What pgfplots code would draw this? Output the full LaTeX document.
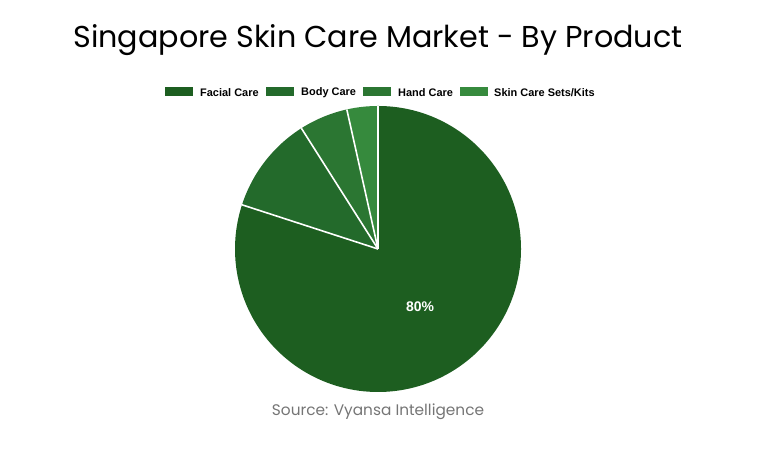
\documentclass[border=0pt]{standalone}
\usepackage{pgfplots}
\pgfplotsset{compat=1.18}
\usepackage{pgfplotstable}
\usepackage{fontspec}
\setmainfont{Liberation Sans}
\newfontfamily\titlefont{Poppins}
\definecolor{c0}{HTML}{1D5E20}
\definecolor{c1}{HTML}{236A2B}
\definecolor{c2}{HTML}{2B7632}
\definecolor{c3}{HTML}{368A3D}
\definecolor{srcgray}{HTML}{757575}
\pgfplotstableread{
name value
Facial 80
Body 11
Hand 5.5
Sets 3.5
}\piedata

\begin{document}
\begin{tikzpicture}[x=1bp,y=1bp]
\useasboundingbox (0,0) rectangle (757,454);
% cumulative angles (clockwise from top)
\xdef\cum{90}
\pgfplotstableforeachcolumnelement{value}\of\piedata\as\v{%
  \pgfmathsetmacro\e{\cum-3.6*\v}%
  \expandafter\xdef\csname sa\pgfplotstablerow\endcsname{\cum}%
  \expandafter\xdef\csname ea\pgfplotstablerow\endcsname{\e}%
  \xdef\cum{\e}%
}
\pgfmathsetmacro\midA{(\csname sa0\endcsname+\csname ea0\endcsname)/2}
\xdef\midA{\midA}
\begin{scope}[shift={(378bp,205bp)}]
\begin{axis}[hide axis, scale only axis, x=143bp, y=143bp,
  xmin=-1, xmax=1, ymin=-1, ymax=1,
  at={(0bp,0bp)}, anchor=center, clip=false]
\pgfplotsinvokeforeach{0,...,3}{
  \fill[c#1] (axis cs:0,0) -- (axis cs:{cos(\csname sa#1\endcsname)},{sin(\csname sa#1\endcsname)})
    arc[start angle=\csname sa#1\endcsname, end angle=\csname ea#1\endcsname, radius=143bp] -- cycle;
}
\pgfplotsinvokeforeach{0,...,3}{
  \draw[white, line width=1.6bp] (axis cs:0,0) -- (axis cs:{cos(\csname sa#1\endcsname)},{sin(\csname sa#1\endcsname)});
}
\node[text=white, font=\bfseries\fontsize{14}{16}\selectfont] at (axis cs:{0.5*cos(\midA)},{0.5*sin(\midA)}) {80\%};
\end{axis}
\end{scope}
% title
\node[font=\titlefont\fontsize{30.3}{36}\selectfont] at (378,414) {Singapore Skin Care Market - By Product};
% legend
\fill[c0] (165,357.5) rectangle (193,366.5);
\node[anchor=west, inner sep=0pt, font=\bfseries\fontsize{11}{13}\selectfont] at (200,361.5) {Facial Care};
\fill[c1] (266,357.5) rectangle (294,366.5);
\node[anchor=west, inner sep=0pt, font=\bfseries\fontsize{11}{13}\selectfont] at (301,361.5) {Body Care};
\fill[c2] (363,357.5) rectangle (391,366.5);
\node[anchor=west, inner sep=0pt, font=\bfseries\fontsize{11}{13}\selectfont] at (398,361.5) {Hand Care};
\fill[c3] (460,357.5) rectangle (488,366.5);
\node[anchor=west, inner sep=0pt, font=\bfseries\fontsize{11}{13}\selectfont] at (494,361.5) {Skin Care Sets/Kits};
% source
\node[text=srcgray, font=\titlefont\fontsize{15.4}{18}\selectfont] at (378,42) {Source: Vyansa Intelligence};
\end{tikzpicture}
\end{document}
